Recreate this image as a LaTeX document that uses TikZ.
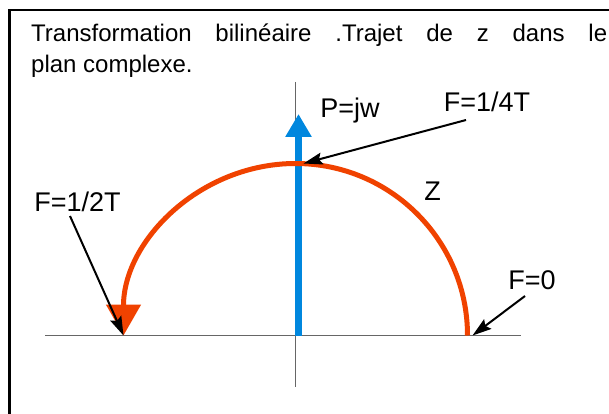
\documentclass[tikz,border=0pt]{standalone}
\usepackage{fontspec}
\setmainfont{Liberation Sans}
\usetikzlibrary{arrows.meta}
\definecolor{zpath}{RGB}{240,66,0}
\definecolor{jwaxis}{RGB}{0,135,222}
\definecolor{axisgray}{gray}{0.4}
\hbadness=10000

\begin{document}
\begin{tikzpicture}[x=1pt, y=1pt, yscale=-1,
    lbl/.style={font=\fontsize{27}{32}\selectfont, inner sep=0pt, anchor=base},
    ptr/.style={black, line width=2pt, -{Stealth[length=19pt,width=12pt,inset=3pt]}}]
  \def\cx{295.5}
  \def\cy{335.5}
  \def\r{172}
  \useasboundingbox (0,0) rectangle (609,414);

  % frame (only top and left edges show)
  \draw[line width=2.5pt] (9.5,414) -- (9.5,10) -- (609,10);

  % title
  \node[anchor=base west, text width=576pt, align=justify, inner sep=0pt,
    font=\fontsize{24}{31}\selectfont] (title) at (31,42)
    {Transformation bilinéaire .Trajet de z dans le\linebreak plan complexe.};

  % axes
  \draw[axisgray, line width=1.2pt] (45,\cy) -- (521,\cy);
  \draw[axisgray, line width=1.2pt] (\cx,82) -- (\cx,387);

  % points of the path
  \coordinate (o) at (298.5,\cy);
  \coordinate (jtip) at (298.5,114);
  \coordinate (f0) at (\cx+\r,\cy);
  \coordinate (fquart) at (\cx,\cy-\r);
  \coordinate (fhalf) at (\cx-\r,\cy);

  % P = jw
  \draw[jwaxis, line width=6.5pt, -{Triangle[length=23pt,width=25pt]}] (o) -- (jtip);
  % path of z
  \draw[zpath, line width=5pt, -{Triangle[length=31pt,width=34pt]}]
    (f0) arc[start angle=0, end angle=-180, radius=\r];

  % labels
  \node[lbl] (pjw) at (350,118) {P=jw};
  \node[lbl] (lquart) at (487,112) {F=1/4T};
  \node[lbl] (lz) at (432.5,200) {Z};
  \node[lbl] (lhalf) at (77.5,211) {F=1/2T};
  \node[lbl] (lzero) at (532,289) {F=0};

  % tails of the pointers
  \coordinate (tquart) at (466,120);
  \coordinate (thalf) at (70,216);
  \coordinate (tzero) at (525,296);

  \draw[ptr] (tquart) -- ([xshift=8pt]fquart);
  \draw[ptr] (thalf) -- (fhalf);
  \draw[ptr] (tzero) -- ([xshift=5pt]f0);
\end{tikzpicture}
\end{document}
